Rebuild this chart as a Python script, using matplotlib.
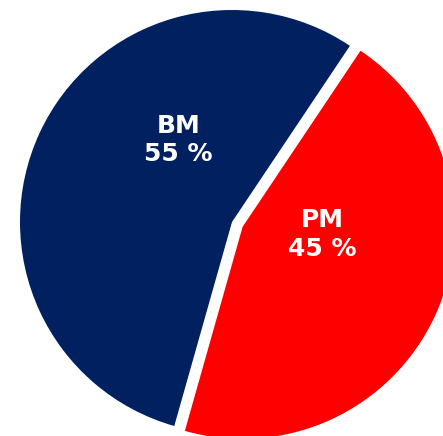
import matplotlib
matplotlib.use("Agg")
import matplotlib.pyplot as plt

categories = ["BM", "PM"]
shares = [55, 45]
colors = ["#002060", "#FF0000"]
explode = [0, 0.055]

fig = plt.figure(figsize=(4.43, 4.36), dpi=100)
ax = fig.add_axes([0, 0, 1, 1])
ax.pie(shares, colors=colors, startangle=56.2, counterclock=True,
       explode=explode, radius=1.0, center=(0, 0),
       wedgeprops=dict(linewidth=0))

label_pos = [(-0.253, 0.387), (0.427, -0.060)]
for name, val, (x, y) in zip(categories, shares, label_pos):
    ax.text(x, y, f"{name}\n{val} %", ha="center", va="center",
            color="white", fontsize=18, fontweight="bold",
            family="DejaVu Sans", linespacing=1.24)

ax.set_xlim(-232 / 212, (443 - 232) / 212)
ax.set_ylim(-(436 - 222) / 212, 222 / 212)
ax.set_aspect("auto")
ax.axis("off")
fig.savefig("out.png", dpi=100)
